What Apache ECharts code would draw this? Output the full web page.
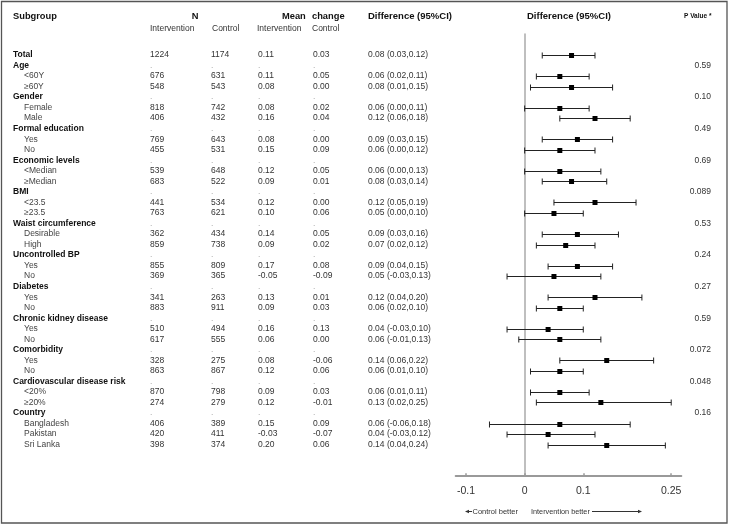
<!DOCTYPE html>
<html><head><meta charset="utf-8">
<script src="https://cdn.jsdelivr.net/npm/echarts@6/dist/echarts.min.js"></script>
<style>html,body{margin:0;padding:0;background:#fff}#c{width:729px;height:527px}</style>
</head><body><div id="c"></div>
<script>
// ---------------- DATA ----------------
const rowLabels = ['Total','Age','<60Y','≥60Y','Gender','Female','Male','Formal education','Yes','No',
  'Economic levels','<Median','≥Median','BMI','<23.5','≥23.5','Waist circumference','Desirable','High',
  'Uncontrolled BP','Yes','No','Diabetes','Yes','No','Chronic kidney disease','Yes','No','Comorbidity','Yes','No',
  'Cardiovascular disease risk','<20%','≥20%','Country','Bangladesh','Pakistan','Sri Lanka'];
const rowKinds = ['total','group','sub','sub','group','sub','sub','group','sub','sub',
  'group','sub','sub','group','sub','sub','group','sub','sub',
  'group','sub','sub','group','sub','sub','group','sub','sub','group','sub','sub',
  'group','sub','sub','group','sub','sub','sub'];
const nIntervention = [1224,null,676,548,null,818,406,null,769,455,null,539,683,null,441,763,null,362,859,
  null,855,369,null,341,883,null,510,617,null,328,863,null,870,274,null,406,420,398];
const nControl = [1174,null,631,543,null,742,432,null,643,531,null,648,522,null,534,621,null,434,738,
  null,809,365,null,263,911,null,494,555,null,275,867,null,798,279,null,389,411,374];
const meanIntervention = [0.11,null,0.11,0.08,null,0.08,0.16,null,0.08,0.15,null,0.12,0.09,null,0.12,0.10,null,0.14,0.09,
  null,0.17,-0.05,null,0.13,0.09,null,0.16,0.06,null,0.08,0.12,null,0.09,0.12,null,0.15,-0.03,0.20];
const meanControl = [0.03,null,0.05,0.00,null,0.02,0.04,null,0.00,0.09,null,0.05,0.01,null,0.00,0.06,null,0.05,0.02,
  null,0.08,-0.09,null,0.01,0.03,null,0.13,0.00,null,-0.06,0.06,null,0.03,-0.01,null,0.09,-0.07,0.06];
const difference = [0.08,null,0.06,0.08,null,0.06,0.12,null,0.09,0.06,null,0.06,0.08,null,0.12,0.05,null,0.09,0.07,
  null,0.09,0.05,null,0.12,0.06,null,0.04,0.06,null,0.14,0.06,null,0.06,0.13,null,0.06,0.04,0.14];
const ciLower = [0.03,null,0.02,0.01,null,0.00,0.06,null,0.03,0.00,null,0.00,0.03,null,0.05,0.00,null,0.03,0.02,
  null,0.04,-0.03,null,0.04,0.02,null,-0.03,-0.01,null,0.06,0.01,null,0.01,0.02,null,-0.06,-0.03,0.04];
const ciUpper = [0.12,null,0.11,0.15,null,0.11,0.18,null,0.15,0.12,null,0.13,0.14,null,0.19,0.10,null,0.16,0.12,
  null,0.15,0.13,null,0.20,0.10,null,0.10,0.13,null,0.22,0.10,null,0.11,0.25,null,0.18,0.12,0.24];
const pValues = ['', '0.59','','','0.10','','','0.49','','','0.69','','','0.089','','','0.53','','',
  '0.24','','','0.27','','','0.59','','','0.072','','','0.048','','','0.16','','',''];
const xTicks = [-0.1, 0, 0.1, 0.25];

// ---------------- LAYOUT / STYLE ----------------
const FONT = '"Liberation Sans", Arial, Helvetica, sans-serif';
const Y_MIN = -2, Y_MAX = 40;
const GRID_TOP = 33.9, GRID_H = 442.3;
const COL = {group: 13, sub: 24, nInt: 150, nCtl: 211, mInt: 258, mCtl: 313, diff: 368, p: 711};
const FS = 8.5;

const rows = rowLabels.map((_, i) => i);
const fmt2 = v => (v < 0 ? '-' : '') + Math.abs(v).toFixed(2);

function textSeries(xPos, getText, opt) {
  opt = opt || {};
  return {
    type: 'custom', xAxisIndex: 1, yAxisIndex: 1, silent: true, clip: false,
    data: rows.map(i => [i]), encode: {y: 0},
    renderItem: function (params, api) {
      const i = api.value(0);
      const t = getText(i);
      if (t == null || t === '') return null;
      const x = typeof xPos === 'function' ? xPos(i) : xPos;
      const p = api.coord([x, i]);
      const f = typeof opt.fill === 'function' ? opt.fill(i) : (opt.fill || '#333');
      const w = typeof opt.weight === 'function' ? opt.weight(i) : (opt.weight || 'normal');
      return {type: 'text', x: p[0], y: p[1] + (opt.dy || 0),
        style: {text: t, fill: f, fontSize: opt.size || FS, fontFamily: FONT, fontWeight: w,
          align: opt.align || 'left', verticalAlign: 'middle'}};
    }
  };
}

const dotOrVal = (arr, f) => i => rowKinds[i] === 'group' ? '.' : (arr[i] == null ? '' : f(arr[i]));
const dotFill = i => rowKinds[i] === 'group' ? '#aaa' : '#333';

const forestData = rows.filter(i => difference[i] != null)
  .map(i => [difference[i], ciLower[i], ciUpper[i], i]);

const series = [
  textSeries(i => rowKinds[i] === 'sub' ? COL.sub : COL.group, i => rowLabels[i],
    {weight: i => rowKinds[i] === 'sub' ? 'normal' : 'bold', fill: i => rowKinds[i] === 'sub' ? '#444' : '#111',
     size: FS}),
  textSeries(COL.nInt, dotOrVal(nIntervention, String), {fill: dotFill, dy: 0}),
  textSeries(COL.nCtl, dotOrVal(nControl, String), {fill: dotFill}),
  textSeries(COL.mInt, dotOrVal(meanIntervention, fmt2), {fill: dotFill}),
  textSeries(COL.mCtl, dotOrVal(meanControl, fmt2), {fill: dotFill}),
  textSeries(COL.diff, i => difference[i] == null ? '' :
    fmt2(difference[i]) + ' (' + fmt2(ciLower[i]) + ',' + fmt2(ciUpper[i]) + ')', {fill: '#333'}),
  textSeries(COL.p, i => pValues[i], {fill: '#333', align: 'right'}),
  {
    type: 'custom', xAxisIndex: 0, yAxisIndex: 0, silent: true, clip: false,
    data: forestData, encode: {x: [0, 1, 2], y: 3},
    renderItem: function (params, api) {
      const r = api.value(3);
      const pe = api.coord([api.value(0), r]);
      const pl = api.coord([api.value(1), r]);
      const pu = api.coord([api.value(2), r]);
      const y = Math.round(pe[1]) + 0.5;
      const ls = {stroke: '#222', lineWidth: 1};
      return {type: 'group', children: [
        {type: 'line', shape: {x1: pl[0], y1: y, x2: pu[0], y2: y}, style: ls},
        {type: 'line', shape: {x1: pl[0], y1: y - 3, x2: pl[0], y2: y + 3}, style: ls},
        {type: 'line', shape: {x1: pu[0], y1: y - 3, x2: pu[0], y2: y + 3}, style: ls},
        {type: 'rect', shape: {x: pe[0] - 2.5, y: y - 2.5, width: 5, height: 5}, style: {fill: '#000'}}
      ]};
    }
  }
];

const hdr = (text, x, y, o) => Object.assign({type: 'text', x: x, y: y, silent: true,
  style: Object.assign({text: text, fill: '#111', fontSize: 9, fontWeight: 'bold', fontFamily: FONT,
    align: 'left', verticalAlign: 'middle'}, o || {})});

const LEG_Y = 511.5;
const graphics = [
  {type: 'rect', shape: {x: 1.5, y: 1.5, width: 725.5, height: 521.5}, silent: true,
   style: {fill: 'none', stroke: '#555', lineWidth: 1.3}},
  hdr('Subgroup', 13, 16, {fontSize: 9.3}),
  hdr('N', 195, 16, {align: 'center', fontSize: 9.3}),
  hdr('Intervention', 150, 29, {fontWeight: 'normal', fontSize: FS, fill: '#333'}),
  hdr('Control', 212, 29, {fontWeight: 'normal', fontSize: FS, fill: '#333'}),
  hdr('Mean', 282, 16, {fontSize: 9.3}),
  hdr('change', 312, 16, {fontSize: 9.3}),
  hdr('Intervention', 257, 29, {fontWeight: 'normal', fontSize: FS, fill: '#333'}),
  hdr('Control', 312, 29, {fontWeight: 'normal', fontSize: FS, fill: '#333'}),
  hdr('Difference (95%CI)', 368, 16, {fontSize: 9.5}),
  hdr('Difference (95%CI)', 527, 16, {fontSize: 9.5}),
  hdr('P Value *', 684, 16, {fontSize: 6.5}),
  // direction legend
  {type: 'polygon', silent: true, shape: {points: [[465, LEG_Y], [469, LEG_Y - 1.8], [469, LEG_Y + 1.8]]}, style: {fill: '#333'}},
  {type: 'line', silent: true, shape: {x1: 468, y1: LEG_Y, x2: 472, y2: LEG_Y}, style: {stroke: '#333', lineWidth: 1}},
  hdr('Control better', 472.5, LEG_Y, {fontWeight: 'normal', fontSize: 7.5, fill: '#333'}),
  hdr('Intervention better', 531, LEG_Y, {fontWeight: 'normal', fontSize: 7.3, fill: '#333'}),
  {type: 'line', silent: true, shape: {x1: 592, y1: LEG_Y, x2: 639, y2: LEG_Y}, style: {stroke: '#333', lineWidth: 1}},
  {type: 'polygon', silent: true, shape: {points: [[642, LEG_Y], [638, LEG_Y - 1.8], [638, LEG_Y + 1.8]]}, style: {fill: '#333'}}
];

const chart = echarts.init(document.getElementById('c'), null, {renderer: 'canvas'});
chart.setOption({
  animation: false,
  backgroundColor: '#fff',
  grid: [
    {left: 455.7, right: 47.7, top: GRID_TOP, height: GRID_H},
    {left: 0, right: 0, top: GRID_TOP, height: GRID_H}
  ],
  xAxis: [
    {type: 'value', gridIndex: 0, min: -0.1176, max: 0.2672,
     axisLine: {show: true, onZero: false, lineStyle: {color: '#999', width: 2}},
     axisTick: {show: true, inside: true, length: 3, customValues: xTicks, lineStyle: {color: '#999', width: 1.5}},
     axisLabel: {show: true, customValues: xTicks, margin: 9, color: '#333', fontSize: 10.5, fontFamily: FONT,
       formatter: v => v === 0 ? '0' : String(v)},
     splitLine: {show: false}},
    {type: 'value', gridIndex: 1, min: 0, max: 729, show: false}
  ],
  yAxis: [
    {type: 'value', gridIndex: 0, min: Y_MIN, max: Y_MAX, inverse: true,
     axisLine: {show: true, onZero: true, lineStyle: {color: '#aaa', width: 1.5}},
     axisTick: {show: false}, axisLabel: {show: false}, splitLine: {show: false}},
    {type: 'value', gridIndex: 1, min: Y_MIN, max: Y_MAX, inverse: true, show: false}
  ],
  series: series,
  graphic: graphics
});
</script></body></html>
